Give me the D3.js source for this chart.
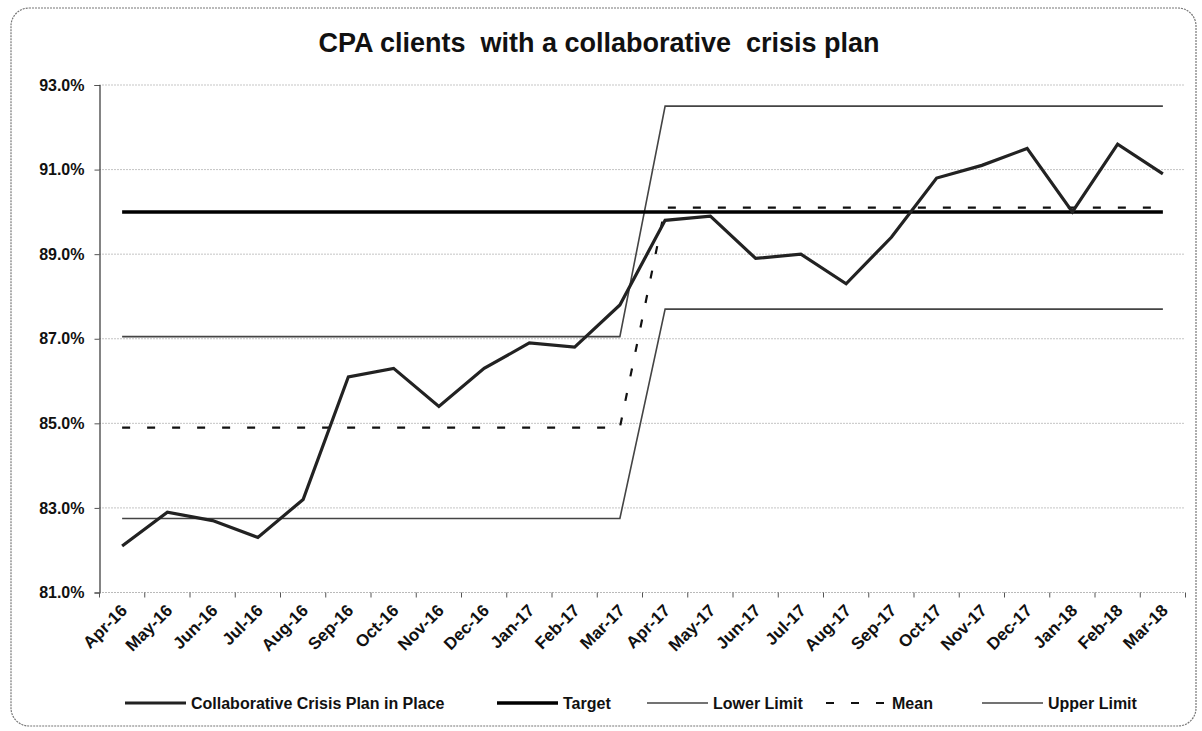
<!DOCTYPE html>
<html>
<head>
<meta charset="utf-8">
<script src="https://cdn.jsdelivr.net/npm/d3@7"></script>
<style>
  html, body { margin: 0; padding: 0; background: #fff; }
  svg { display: block; font-family: "Liberation Sans", Arial, sans-serif; }
</style>
</head>
<body>
<svg id="chart" width="1202" height="731"></svg>
<script>
// Monthly categories, Apr-16 .. Mar-18
const months = ["Apr-16","May-16","Jun-16","Jul-16","Aug-16","Sep-16","Oct-16","Nov-16","Dec-16","Jan-17","Feb-17","Mar-17",
                "Apr-17","May-17","Jun-17","Jul-17","Aug-17","Sep-17","Oct-17","Nov-17","Dec-17","Jan-18","Feb-18","Mar-18"];

// % of CPA clients with a collaborative crisis plan in place
const planInPlace = [82.1, 82.9, 82.7, 82.3, 83.2, 86.1, 86.3, 85.4, 86.3, 86.9, 86.8, 87.8,
                     89.8, 89.9, 88.9, 89.0, 88.3, 89.4, 90.8, 91.1, 91.5, 90.0, 91.6, 90.9];

// Target and control limits (two phases: Apr-16..Mar-17, Apr-17..Mar-18)
const target     = [90.0, 90.0, 90.0, 90.0, 90.0, 90.0, 90.0, 90.0, 90.0, 90.0, 90.0, 90.0,
                    90.0, 90.0, 90.0, 90.0, 90.0, 90.0, 90.0, 90.0, 90.0, 90.0, 90.0, 90.0];
const lowerLimit = [82.75, 82.75, 82.75, 82.75, 82.75, 82.75, 82.75, 82.75, 82.75, 82.75, 82.75, 82.75,
                    87.7, 87.7, 87.7, 87.7, 87.7, 87.7, 87.7, 87.7, 87.7, 87.7, 87.7, 87.7];
const mean       = [84.9, 84.9, 84.9, 84.9, 84.9, 84.9, 84.9, 84.9, 84.9, 84.9, 84.9, 84.9,
                    90.1, 90.1, 90.1, 90.1, 90.1, 90.1, 90.1, 90.1, 90.1, 90.1, 90.1, 90.1];
const upperLimit = [87.05, 87.05, 87.05, 87.05, 87.05, 87.05, 87.05, 87.05, 87.05, 87.05, 87.05, 87.05,
                    92.5, 92.5, 92.5, 92.5, 92.5, 92.5, 92.5, 92.5, 92.5, 92.5, 92.5, 92.5];

const yTicks = [81, 83, 85, 87, 89, 91, 93];
const title = "CPA clients  with a collaborative  crisis plan";

const seriesNames = ["Collaborative Crisis Plan in Place", "Target", "Lower Limit", "Mean", "Upper Limit"];

const svg = d3.select("#chart");
const plot = { left: 99.5, right: 1185.5, top: 85, bottom: 592.5 };

// Outer chart frame
svg.append("rect")
  .attr("x", 11).attr("y", 8).attr("width", 1185).attr("height", 718)
  .attr("rx", 18).attr("ry", 18)
  .attr("fill", "#fff").attr("stroke", "#777").attr("stroke-width", 1.2)
  .attr("stroke-dasharray", "2,1");

// Title
svg.append("text")
  .attr("x", 599).attr("y", 52)
  .attr("text-anchor", "middle")
  .style("white-space", "pre")
  .attr("font-size", 27).attr("font-weight", "bold").attr("fill", "#111")
  .text(title);

const x = d3.scalePoint().domain(months).range([plot.left, plot.right]).padding(0.5);
const step = x.step();
const y = d3.scaleLinear().domain([81, 93]).range([plot.bottom, plot.top]);

// Horizontal gridlines
svg.append("g").selectAll("line").data(yTicks.slice(1)).join("line")
  .attr("x1", plot.left).attr("x2", plot.right)
  .attr("y1", d => y(d)).attr("y2", d => y(d))
  .attr("stroke", "#8a8a8a").attr("stroke-width", 1).attr("stroke-dasharray", "1,2");

// Y axis
const yAxis = d3.axisLeft(y).tickValues(yTicks).tickSize(5).tickPadding(10)
  .tickFormat(d => d.toFixed(1) + "%");
const gy = svg.append("g").attr("transform", `translate(${plot.left},0)`).call(yAxis);
gy.select(".domain").attr("stroke", "#333").attr("stroke-width", 1.2);
gy.selectAll(".tick line").attr("stroke", "#555");
gy.selectAll(".tick text")
  .attr("font-size", 16).attr("font-weight", "bold").attr("fill", "#111")
  .attr("font-family", "Liberation Sans, Arial, sans-serif");

// X axis (baseline dotted, ticks between categories)
svg.append("line")
  .attr("x1", plot.left).attr("x2", plot.right)
  .attr("y1", y(81)).attr("y2", y(81))
  .attr("stroke", "#777").attr("stroke-width", 1.2).attr("stroke-dasharray", "1,2");
svg.append("g").selectAll("line").data(d3.range(months.length + 1)).join("line")
  .attr("x1", i => plot.left + i * step).attr("x2", i => plot.left + i * step)
  .attr("y1", y(81)).attr("y2", y(81) + 5)
  .attr("stroke", "#555").attr("stroke-width", 1);
svg.append("g").selectAll("text").data(months).join("text")
  .attr("transform", d => `translate(${x(d) + 6},${y(81) + 19}) rotate(-45)`)
  .attr("text-anchor", "end")
  .attr("font-size", 17).attr("font-weight", "bold").attr("fill", "#111")
  .text(d => d);

const line = d3.line().x((d, i) => x(months[i])).y(d => y(d));

// Control limits
svg.append("path").datum(lowerLimit).attr("d", line)
  .attr("fill", "none").attr("stroke", "#444").attr("stroke-width", 1.6);
svg.append("path").datum(upperLimit).attr("d", line)
  .attr("fill", "none").attr("stroke", "#444").attr("stroke-width", 1.6);
// Mean
svg.append("path").datum(mean).attr("d", line)
  .attr("fill", "none").attr("stroke", "#111").attr("stroke-width", 2.2)
  .attr("stroke-dasharray", "8,17");
// Target
svg.append("path").datum(target).attr("d", line)
  .attr("fill", "none").attr("stroke", "#000").attr("stroke-width", 3.5);
// Measure
svg.append("path").datum(planInPlace).attr("d", line)
  .attr("fill", "none").attr("stroke", "#222").attr("stroke-width", 3.2)
  .attr("stroke-linejoin", "miter");

// Legend
const legendStyles = [
  { stroke: "#222", width: 3, dash: null },
  { stroke: "#000", width: 3.5, dash: null },
  { stroke: "#444", width: 1.6, dash: null },
  { stroke: "#111", width: 2.2, dash: "8,17" },
  { stroke: "#444", width: 1.6, dash: null }
];
const legendX = [125, 497, 647, 826, 982];
const legendY = 703;
const lg = svg.append("g").selectAll("g").data(seriesNames).join("g")
  .attr("transform", (d, i) => `translate(${legendX[i]},${legendY})`);
lg.append("line")
  .attr("x1", 0).attr("x2", 61).attr("y1", 0).attr("y2", 0)
  .attr("stroke", (d, i) => legendStyles[i].stroke)
  .attr("stroke-width", (d, i) => legendStyles[i].width)
  .attr("stroke-dasharray", (d, i) => legendStyles[i].dash);
lg.append("text")
  .attr("x", 66).attr("y", 0).attr("dy", "0.35em")
  .attr("font-size", 16).attr("font-weight", "bold").attr("fill", "#111")
  .text(d => d);
</script>
</body>
</html>
